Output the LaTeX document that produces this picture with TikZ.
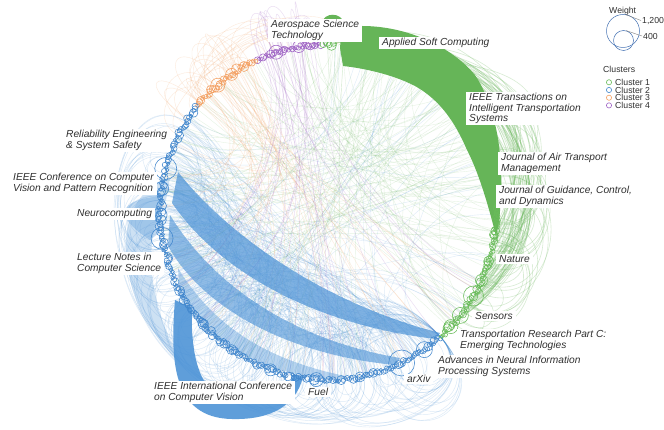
\documentclass[tikz,border=0pt]{standalone}
\usepackage{fontspec}
\setmainfont{Liberation Sans}
\definecolor{cg}{RGB}{102,181,88}
\definecolor{cgn}{RGB}{105,188,90}
\definecolor{cb}{RGB}{78,148,215}
\definecolor{cbn}{RGB}{66,135,205}
\definecolor{co}{RGB}{244,160,98}
\definecolor{cp}{RGB}{158,98,196}
\definecolor{txt}{RGB}{48,48,48}
\definecolor{legc}{RGB}{70,115,180}
\tikzset{
  lab/.style={fill=white, text=txt, font=\fontsize{10.2}{10.6}\selectfont\itshape, align=left, anchor=north west, inner xsep=3pt, inner ysep=1.5pt},
  leg/.style={text=txt, font=\fontsize{8.7}{10}\selectfont, inner sep=0pt, anchor=base west},
  bedge/.style={draw=cb, draw opacity=0.18, line width=0.4pt},
  bedgeo/.style={draw=cb, draw opacity=0.2, line width=0.45pt},
  gedge/.style={draw=cg, draw opacity=0.16, line width=0.4pt},
  gedgeo/.style={draw=cg, draw opacity=0.26, line width=0.6pt},
  oedge/.style={draw=co, draw opacity=0.22, line width=0.4pt},
  pedge/.style={draw=cp, draw opacity=0.22, line width=0.45pt},
  band/.style={fill=cb, fill opacity=0.72},
  nodec/.style={line width=0.55pt}
}
\begin{document}
\begin{tikzpicture}[x=1pt,y=-1pt]
\useasboundingbox (0,0) rectangle (664,430);
\fill[white] (0,0) rectangle (664,430);

% ---------------- edges ----------------
\begin{scope}[shift={(328,212)}, yscale=-1]
\pgfmathsetseed{4}
% blue inside, long
\foreach \i in {1,...,130}{
  \pgfmathsetmacro{\a}{145+165*rnd}
  \pgfmathsetmacro{\b}{145+mod(\a-145+30+105*rnd,165)}
  \pgfmathsetmacro{\k}{40+80*rnd}
  \draw[bedge] (\a:168) .. controls (\a:\k) and (\b:\k) .. (\b:168);
}
% blue inside, short chords near rim
\foreach \i in {1,...,160}{
  \pgfmathsetmacro{\a}{145+150*rnd}
  \pgfmathsetmacro{\b}{min(\a+15+70*rnd,312)}
  \pgfmathsetmacro{\k}{80+60*rnd}
  \draw[bedge] (\a:168) .. controls (\a:\k) and (\b:\k) .. (\b:168);
}
% blue to green / center
\foreach \i in {1,...,40}{
  \pgfmathsetmacro{\a}{145+165*rnd}
  \pgfmathsetmacro{\b}{-40+130*rnd}
  \pgfmathsetmacro{\k}{40+70*rnd}
  \draw[bedge] (\a:168) .. controls (\a:\k) and (\b:\k) .. (\b:168);
}
% blue outside
\foreach \i in {1,...,130}{
  \pgfmathsetmacro{\a}{146+150*rnd}
  \pgfmathsetmacro{\d}{6+48*rnd}
  \pgfmathsetmacro{\b}{min(\a+\d,312)}
  \pgfmathsetmacro{\R}{178+1.6*\d}
  \draw[bedgeo] (\a:168) .. controls (\a:\R) and (\b:\R) .. (\b:168);
}
% green inside
\foreach \i in {1,...,120}{
  \pgfmathsetmacro{\a}{-45+135*rnd}
  \pgfmathsetmacro{\b}{\a+50+160*rnd}
  \pgfmathsetmacro{\k}{45+90*rnd}
  \draw[gedge] (\a:168) .. controls (\a:\k) and (\b:\k) .. (\b:168);
}
% green outside halo
\foreach \i in {1,...,60}{
  \pgfmathsetmacro{\a}{66+24*rnd}
  \pgfmathsetmacro{\b}{-40+36*rnd}
  \pgfmathsetmacro{\ca}{\a-28}
  \pgfmathsetmacro{\cb}{\b+32}
  \pgfmathsetmacro{\Ra}{220+35*rnd}
  \pgfmathsetmacro{\Rb}{238+55*rnd}
  \draw[gedgeo] (\a:168) .. controls (\ca:\Ra) and (\cb:\Rb) .. (\b:168);
}
% green short outside loops
\foreach \i in {1,...,25}{
  \pgfmathsetmacro{\a}{-42+40*rnd}
  \pgfmathsetmacro{\d}{8+30*rnd}
  \pgfmathsetmacro{\b}{\a+\d}
  \pgfmathsetmacro{\R}{185+2.0*\d}
  \draw[gedgeo] (\a:168) .. controls (\a:\R) and (\b:\R) .. (\b:168);
}
% orange inside
\foreach \i in {1,...,40}{
  \pgfmathsetmacro{\a}{116+24*rnd}
  \pgfmathsetmacro{\b}{150+190*rnd}
  \pgfmathsetmacro{\k}{40+70*rnd}
  \draw[oedge] (\a:168) .. controls (\a:\k) and (\b:\k) .. (\b:168);
}
% orange outside
\foreach \i in {1,...,35}{
  \pgfmathsetmacro{\a}{116+24*rnd}
  \pgfmathsetmacro{\b}{85+70*rnd}
  \pgfmathsetmacro{\R}{190+45*rnd}
  \draw[oedge] (\a:168) .. controls (\a:\R) and (\b:\R) .. (\b:168);
}
% purple inside
\foreach \i in {1,...,30}{
  \pgfmathsetmacro{\a}{93+21*rnd}
  \pgfmathsetmacro{\b}{170+170*rnd}
  \pgfmathsetmacro{\k}{40+70*rnd}
  \draw[pedge] (\a:168) .. controls (\a:\k) and (\b:\k) .. (\b:168);
}
% purple outside
\foreach \i in {1,...,18}{
  \pgfmathsetmacro{\a}{93+21*rnd}
  \pgfmathsetmacro{\b}{93+21*rnd}
  \pgfmathsetmacro{\R}{190+40*rnd}
  \draw[pedge] (\a:168) .. controls (\a:\R) and (\b:\R) .. (\b:168);
}
\end{scope}

% ---------------- big ribbons ----------------
\fill[cb, opacity=0.28] (170,178) .. controls (108,195) and (110,300) .. (183,365) .. controls (150,310) and (140,240) .. (166,200) -- cycle;
\fill[cb, opacity=0.35] (162,196) .. controls (118,200) and (112,215) .. (150,240) -- (160,232) -- cycle;
% diagonal bands
\fill[band] (178,172) .. controls (232,240) and (330,305) .. (440,333) -- (436,339) .. controls (322,326) and (222,276) .. (172,203) -- cycle;
\fill[band, fill opacity=0.62] (170,215) .. controls (215,288) and (295,340) .. (400,358) -- (396,365) .. controls (295,356) and (205,312) .. (168,246) -- cycle;
\fill[band, fill opacity=0.4] (178,268) .. controls (218,334) and (278,362) .. (345,376) -- (340,381) .. controls (268,374) and (208,348) .. (180,298) -- cycle;
% bowl band (ICCV)
\fill[band, fill opacity=0.9] (175,300) .. controls (170,360) and (172,418) .. (232,419) .. controls (272,420) and (296,405) .. (303,377) -- (294,374) .. controls (286,397) and (262,403) .. (236,402) .. controls (202,400) and (190,360) .. (192,308) -- cycle;
% big green band
\fill[cg] (340,48) -- (341,36) .. controls (345,28) and (352,26) .. (362,26) .. controls (405,26) and (450,45) .. (475,75) .. controls (495,105) and (503,150) .. (501,195) .. controls (500,215) and (499,225) .. (496,236) .. controls (490,212) and (480,175) .. (467,150) .. controls (455,122) and (440,100) .. (415,86) .. controls (392,74) and (362,68) .. (343,66) -- cycle;
\fill[cg] (322,23) .. controls (324,12) and (341,12) .. (344,23) -- cycle;

% ---------------- nodes ----------------
\begin{scope}[shift={(328,212)}, yscale=-1]
\pgfmathsetseed{11}
\foreach \t in {92.5,93.2,...,452}{
  \pgfmathsetmacro{\rr}{1.8+3.6*rnd*rnd}
  \pgfmathsetmacro{\rad}{168+3.6*(rnd-0.5)}
  \pgfmathtruncatemacro{\hide}{(\t>363)&&(\t<448)}
  \ifdim\t pt<115pt \def\nc{cp}\else\ifdim\t pt<141pt \def\nc{co}\else\ifdim\t pt<312pt \def\nc{cbn}\else\def\nc{cgn}\fi\fi\fi
  \ifnum\hide=0
    \draw[nodec, draw=\nc] (\t:\rad) circle[radius=\rr];
  \fi
}
\foreach \t/\r in {165/11,172/7,181/7,189/11,196/6,208/5,222/5,235/5,250/6,266/7,281/5,296/13,305/8}{
  \draw[nodec, draw=cbn] (\t:168) circle[radius=\r];
}
\foreach \t/\r in {317/7,322/8,330/10,336/6,343/5,352/4}{
  \draw[nodec, draw=cgn] (\t:168) circle[radius=\r];
}
\foreach \t/\r in {120/5,125/6,131/7}{
  \draw[nodec, draw=co] (\t:168) circle[radius=\r];
}
\foreach \t/\r in {96/5,100/6,108/7}{
  \draw[nodec, draw=cp] (\t:168) circle[radius=\r];
}
\end{scope}

% ---------------- labels ----------------
\node[lab] (ast) at (268,18.5) {Aerospace Science\\Technology};
\node[lab] (asc) at (379,36.5) {Applied Soft Computing};
\node[lab] (its) at (466,91.5) {IEEE Transactions on\\Intelligent Transportation\\Systems};
\node[lab] (jatm) at (498,151.5) {Journal of Air Transport\\Management};
\node[lab] (jgcd) at (496,184.5) {Journal of Guidance, Control,\\and Dynamics};
\node[lab] (nat) at (496,253.5) {Nature};
\node[lab] (sen) at (472,310.5) {Sensors};
\node[lab] (trc) at (457,328.5) {Transportation Research Part C:\\Emerging Technologies};
\node[lab] (nips) at (435,354.5) {Advances in Neural Information\\Processing Systems};
\node[lab] (arx) at (404,373.5) {arXiv};
\node[lab] (fuel) at (305,386.5) {Fuel};
\node[lab] (iccv) at (151,380.5) {IEEE International Conference\\on Computer Vision};
\node[lab] (lncs) at (74,251.5) {Lecture Notes in\\Computer Science};
\node[lab] (neur) at (74,207.5) {Neurocomputing};
\node[lab] (cvpr) at (10,171.5) {IEEE Conference on Computer\\Vision and Pattern Recognition};
\node[lab] (ress) at (63,128.5) {Reliability Engineering\\\& System Safety};

% ---------------- legend ----------------
\node[leg] (lw) at (609,14) {Weight};
\draw[legc, line width=0.5pt] (623,31) circle[radius=16.5];
\draw[legc, line width=0.5pt] (623.5,40.5) circle[radius=10];
\coordinate (l1) at (626,14.7);
\coordinate (l2) at (626,30.6);
\node[leg] (w1) at (642,24) {1,200};
\node[leg] (w2) at (643,39.5) {400};
\draw[gray, line width=0.4pt] (l1) -- (641,20.5);
\draw[gray, line width=0.4pt] (l2) -- (642,36);
\node[leg] (lc) at (603,72.5) {Clusters};
\draw[cgn, line width=0.6pt] (609,82.3) circle[radius=2.6];
\draw[cbn, line width=0.6pt] (609,90) circle[radius=2.6];
\draw[co, line width=0.6pt] (609,97.7) circle[radius=2.6];
\draw[cp, line width=0.6pt] (609,105.4) circle[radius=2.6];
\node[leg] (c1) at (615,85.5) {Cluster 1};
\node[leg] (c2) at (615,93.2) {Cluster 2};
\node[leg] (c3) at (615,100.9) {Cluster 3};
\node[leg] (c4) at (615,108.6) {Cluster 4};
\end{tikzpicture}
\end{document}
